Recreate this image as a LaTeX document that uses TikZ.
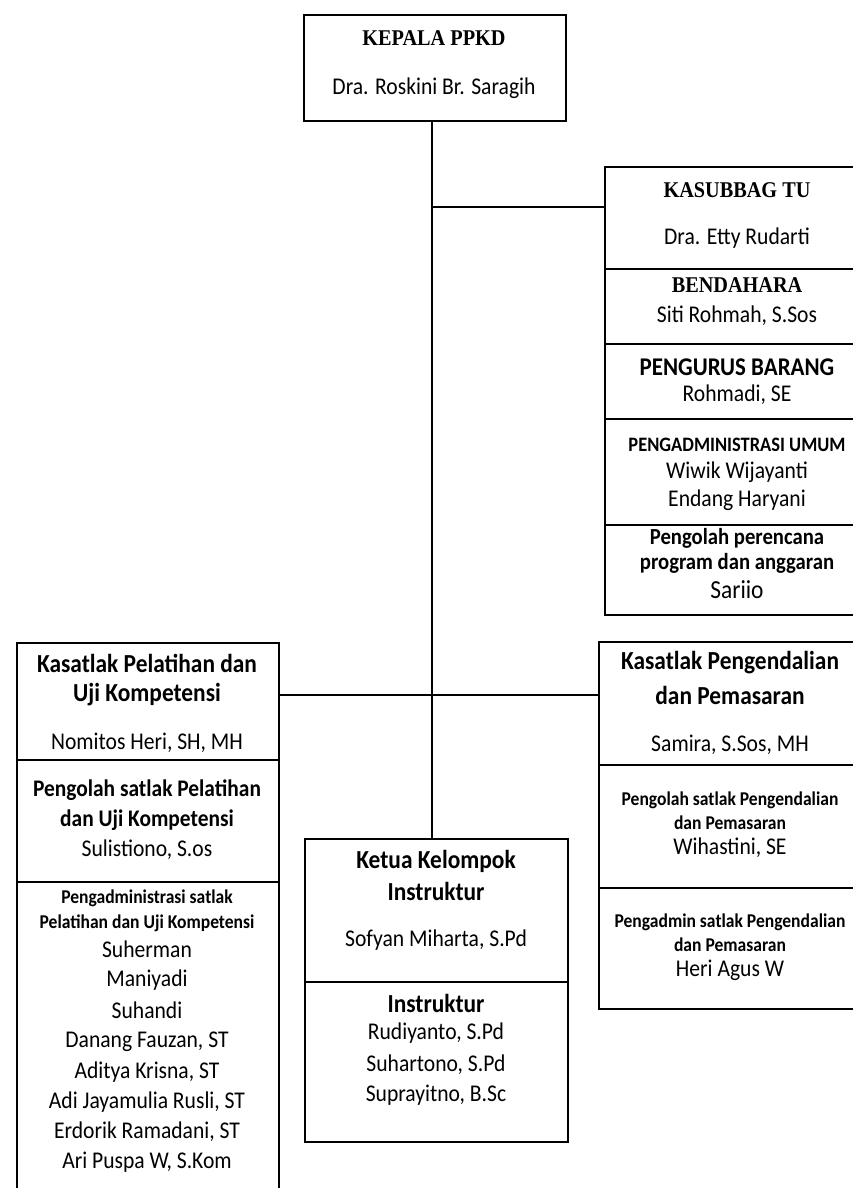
\documentclass[tikz,border=0pt]{standalone}
\usepackage{fontspec}
\setmainfont{Carlito}[FakeStretch=0.9]
\newfontfamily\cambr{Liberation Serif}[FakeStretch=0.9]
\begin{document}
\begin{tikzpicture}[x=1pt,y=-1pt,
  box/.style={draw=black,line width=1.8pt,inner sep=0pt,anchor=north west},
  line/.style={draw=black,line width=1.6pt},
  nm/.style={inner sep=0pt,anchor=center,font=\fontsize{24}{28}\selectfont},
  hd/.style={inner sep=0pt,anchor=center,font=\fontsize{26}{30}\selectfont\bfseries},
  sh/.style={inner sep=0pt,anchor=center,font=\cambr\fontsize{22.5}{26}\selectfont\bfseries},
  sm/.style={inner sep=0pt,anchor=center,font=\fontsize{19.5}{22}\selectfont\bfseries},
  md/.style={inner sep=0pt,anchor=center,font=\fontsize{23}{26}\selectfont\bfseries}]
\useasboundingbox (0,0) rectangle (853,1188);
\clip (0,0) rectangle (853,1188);
% boxes
\node[box,minimum width=262pt,minimum height=106pt] (top) at (303,14) {};
\node[box,minimum width=262pt,minimum height=102pt] (kasub) at (604,166) {};
\node[box,minimum width=262pt,minimum height=75pt] (bend) at (604,268) {};
\node[box,minimum width=262pt,minimum height=75pt] (pbar) at (604,343) {};
\node[box,minimum width=262pt,minimum height=106pt] (padm) at (604,418) {};
\node[box,minimum width=262pt,minimum height=90pt] (pper) at (604,524) {};
\node[box,minimum width=262pt,minimum height=117pt] (kasL) at (16,642) {};
\node[box,minimum width=262pt,minimum height=122pt] (polL) at (16,759) {};
\node[box,minimum width=262pt,minimum height=330pt] (admL) at (16,881) {};
\node[box,minimum width=263pt,minimum height=143pt] (ketua) at (304,838) {};
\node[box,minimum width=263pt,minimum height=160pt] (instr) at (304,981) {};
\node[box,minimum width=268pt,minimum height=123pt] (kasR) at (598,641) {};
\node[box,minimum width=268pt,minimum height=123pt] (polR) at (598,764) {};
\node[box,minimum width=268pt,minimum height=121pt] (admR) at (598,887) {};
% connectors
\coordinate (j1) at (432,207);
\coordinate (j2) at (432,695);
\draw[line] (top.south -| j1) -- (ketua.north -| j1);
\draw[line] (j1) -- (j1 -| kasub.west);
\draw[line] (kasL.east |- j2) -- (kasR.west |- j2);
% top
\node[sh] (t1) at (434,38) {KEPALA PPKD};
\node[nm] (t2) at (434,88) {Dra. Roskini Br. Saragih};
% right stack
\node[sh] (k1) at (737,190) {KASUBBAG TU};
\node[nm] (k2) at (737,238) {Dra. Etty Rudarti};
\node[sh] (b1) at (737,285) {BENDAHARA};
\node[nm] (b2) at (737,316) {Siti Rohmah, S.Sos};
\node[hd,font=\fontsize{25.5}{30}\selectfont\bfseries] (p1) at (737,367) {PENGURUS BARANG};
\node[nm] (p2) at (737,395) {Rohmadi, SE};
\node[sm,font=\fontsize{20.5}{24}\selectfont\bfseries] (a1) at (737,445) {PENGADMINISTRASI UMUM};
\node[nm] (a2) at (737,472) {Wiwik Wijayanti};
\node[nm] (a3) at (737,500) {Endang Haryani};
\node[md] (r1) at (737,538) {Pengolah perencana};
\node[md] (r2) at (737,563) {program dan anggaran};
\node[nm,font=\fontsize{26}{30}\selectfont] (r3) at (737,590) {Sariio};
% left stack
\node[hd] (l1) at (147,663) {Kasatlak Pelatihan dan};
\node[hd] (l2) at (147,695) {Uji Kompetensi};
\node[nm] (l3) at (147,743) {Nomitos Heri, SH, MH};
\node[hd,font=\fontsize{23.8}{28}\selectfont\bfseries] (l4) at (147,790) {Pengolah satlak Pelatihan};
\node[hd,font=\fontsize{23.8}{28}\selectfont\bfseries] (l5) at (147,820) {dan Uji Kompetensi};
\node[nm] (l6) at (147,850) {Sulistiono, S.os};
\node[sm] (m1) at (147,898) {Pengadministrasi satlak};
\node[sm] (m2) at (147,923) {Pelatihan dan Uji Kompetensi};
\node[nm] (m3) at (147,949) {Suherman};
\node[nm] (m4) at (147,980) {Maniyadi};
\node[nm] (m5) at (147,1010) {Suhandi};
\node[nm] (m6) at (147,1042) {Danang Fauzan, ST};
\node[nm] (m7) at (147,1072) {Aditya Krisna, ST};
\node[nm] (m8) at (147,1102) {Adi Jayamulia Rusli, ST};
\node[nm] (m9) at (147,1132) {Erdorik Ramadani, ST};
\node[nm] (m10) at (147,1162) {Ari Puspa W, S.Kom};
% middle
\node[hd] (c1) at (436,861) {Ketua Kelompok};
\node[hd] (c2) at (436,891) {Instruktur};
\node[nm] (c3) at (436,940) {Sofyan Miharta, S.Pd};
\node[hd] (c4) at (436,1003) {Instruktur};
\node[nm] (c5) at (436,1033) {Rudiyanto, S.Pd};
\node[nm] (c6) at (436,1065) {Suhartono, S.Pd};
\node[nm] (c7) at (436,1095) {Suprayitno, B.Sc};
% right lower
\node[hd] (s1) at (730,663) {Kasatlak Pengendalian};
\node[hd] (s2) at (730,695) {dan Pemasaran};
\node[nm] (s3) at (730,745) {Samira, S.Sos, MH};
\node[sm] (s4) at (730,800) {Pengolah satlak Pengendalian};
\node[sm] (s5) at (730,823) {dan Pemasaran};
\node[nm] (s6) at (730,848) {Wihastini, SE};
\node[sm] (s7) at (730,922) {Pengadmin satlak Pengendalian};
\node[sm] (s8) at (730,945) {dan Pemasaran};
\node[nm] (s9) at (730,970) {Heri Agus W};
\end{tikzpicture}
\end{document}
